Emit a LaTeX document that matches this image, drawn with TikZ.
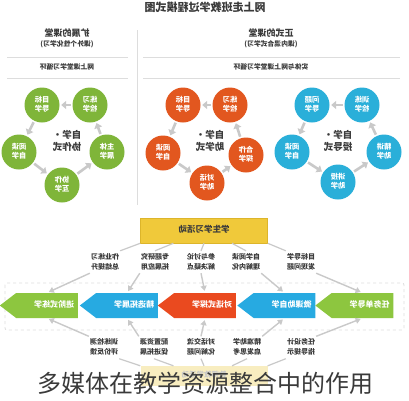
\documentclass[tikz,border=0pt]{standalone}
\usepackage{fontspec}
\setmainfont{Noto Sans CJK SC}
\usepackage{graphicx}
\usetikzlibrary{arrows.meta,shapes.symbols,calc}
\definecolor{cgreen}{HTML}{7FB539}
\definecolor{corange}{HTML}{E2571F}
\definecolor{cblue}{HTML}{2AAFD9}
\definecolor{vgreen}{HTML}{8DC63F}
\definecolor{vblue}{HTML}{27AAE1}
\definecolor{vred}{HTML}{EA4A1F}
\definecolor{gold}{HTML}{F0C93A}
\definecolor{goldline}{HTML}{DDB52A}
\definecolor{paleyellow}{HTML}{F8EDC0}
\definecolor{arrowgray}{HTML}{C9C9C9}
\definecolor{rulegray}{HTML}{DDDDDD}
\definecolor{txtgray}{HTML}{3A3A3A}
\newcommand\mirr[1]{\reflectbox{\begin{tabular}{@{}c@{}}#1\end{tabular}}}
\tikzset{
  circ/.style={circle, minimum size=35pt, inner sep=0pt, text=white,
    font=\fontsize{7.3}{9.5}\selectfont\bfseries},
  carrow/.style={draw=arrowgray, line width=2.6pt,
    -{Triangle[length=5pt,width=8pt]}, shorten >=1.5pt, shorten <=1.5pt},
  ctext/.style={text=txtgray, font=\fontsize{9.5}{12}\selectfont\bfseries},
  lab/.style={text=txtgray, inner sep=1pt, font=\fontsize{7}{10}\selectfont\bfseries},
  chev/.style={signal, signal to=west, signal pointer angle=75,
    minimum width=78pt, minimum height=25pt, inner sep=0pt, text=white,
    font=\fontsize{8}{9}\selectfont\bfseries},
  larrow/.style={draw=arrowgray, line width=1.4pt,
    -{Triangle[length=5pt,width=6pt]}, shorten >=2pt},
  fan/.style={draw=arrowgray, line width=1.2pt},
  head/.style={text=txtgray, font=\fontsize{9}{10}\selectfont\bfseries},
  sub/.style={text=txtgray, font=\fontsize{6.8}{8}\selectfont\bfseries},
}
\begin{document}
\begin{tikzpicture}[x=1pt,y=-1pt]
\useasboundingbox (0,0) rectangle (409,400);
\fill[white] (0,0) rectangle (409,400);
% ---------- top section
\node[text=txtgray, font=\fontsize{11}{12}\selectfont\bfseries] (title) at (205,9) {\mirr{网上走班教学过程模式图}};
\draw[rulegray, line width=0.8pt] (137,30) -- (137,205);
\node[head] (hl) at (67,34) {\mirr{扩展的课堂}};
\node[sub] (hls) at (67,45) {\mirr{(课外个性化学习)}};
\node[head] (hr) at (271,34) {\mirr{正式的课堂}};
\node[sub] (hrs) at (271,45) {\mirr{(课内混合式学习)}};
\draw[rulegray, line width=0.7pt] (7,57.5) -- (128,57.5) (143,57.5) -- (400,57.5);
\draw[rulegray, line width=0.7pt] (7,78) -- (128,78) (143,78) -- (400,78);
\node[sub] (cl) at (67,68) {\mirr{网上课堂学习循环}};
\node[sub] (cr) at (271,68) {\mirr{实体与网上课堂学习循环}};
% left cycle (green)
\node[circ, fill=cgreen] (l1) at (42,105) {\mirr{目标\\导学}};
\node[circ, fill=cgreen] (l2) at (90,105) {\mirr{练习\\检学}};
\node[circ, fill=cgreen] (l3) at (19,152) {\mirr{阅读\\自学}};
\node[circ, fill=cgreen] (l4) at (62,185) {\mirr{协作\\互学}};
\node[circ, fill=cgreen] (l5) at (107,152) {\mirr{主体\\展学}};
\node[ctext] (lc) at (67,142) {\mirr{自学·\\协作式}};
\draw[carrow] (l2) -- (l1);
\draw[carrow] (l1) -- (l3);
\draw[carrow] (l3) -- (l4);
\draw[carrow] (l4) -- (l5);
\draw[carrow] (l5) -- (l2);
% middle cycle (orange)
\node[circ, fill=corange] (m1) at (183,105) {\mirr{目标\\导学}};
\node[circ, fill=corange] (m2) at (230,105) {\mirr{练习\\检学}};
\node[circ, fill=corange] (m3) at (163,153) {\mirr{阅读\\自学}};
\node[circ, fill=corange] (m4) at (207,183) {\mirr{对话\\助学}};
\node[circ, fill=corange] (m5) at (246,155) {\mirr{合作\\探学}};
\node[ctext] (mc) at (210,142) {\mirr{自学·\\助学式}};
\draw[carrow] (m2) -- (m1);
\draw[carrow] (m1) -- (m3);
\draw[carrow] (m3) -- (m4);
\draw[carrow] (m4) -- (m5);
\draw[carrow] (m5) -- (m2);
% right cycle (blue)
\node[circ, fill=cblue] (r1) at (312,105) {\mirr{问题\\导学}};
\node[circ, fill=cblue] (r2) at (362,105) {\mirr{训练\\检学}};
\node[circ, fill=cblue] (r3) at (292,152) {\mirr{阅读\\自学}};
\node[circ, fill=cblue] (r4) at (338,182) {\mirr{讲授\\助学}};
\node[circ, fill=cblue] (r5) at (384,152) {\mirr{精讲\\助学}};
\node[ctext] (rc) at (338,142) {\mirr{自学·\\授导式}};
\draw[carrow] (r2) -- (r1);
\draw[carrow] (r1) -- (r3);
\draw[carrow] (r3) -- (r4);
\draw[carrow] (r4) -- (r5);
\draw[carrow] (r5) -- (r2);
% ---------- bottom section
\node[draw=goldline, fill=gold, line width=0.6pt, minimum width=127pt, minimum height=25pt,
  text=txtgray, font=\fontsize{8.5}{10}\selectfont\bfseries] (sbox) at (204,230.5) {\mirr{学生学习活动}};
\node[lab] (a1) at (105,262) {\mirr{作业练习\\总结提升}};
\node[lab] (a2) at (155,262) {\mirr{专题研究\\拓展应用}};
\node[lab] (a3) at (201,262) {\mirr{参与讨论\\解决疑点}};
\node[lab] (a4) at (246,262) {\mirr{自学阅读\\理解内化}};
\node[lab] (a5) at (301,262) {\mirr{目标导学\\发现问题}};
\draw[fan] (sbox.south west) -- (a1.north east);
\draw[fan] ($(sbox.south west)!0.26!(sbox.south east)$) -- (a2.north);
\draw[fan] (sbox.south) -- (a3.north);
\draw[fan] ($(sbox.south west)!0.72!(sbox.south east)$) -- (a4.north);
\draw[fan] (sbox.south east) -- (a5.north west);
% chevron band
\draw[rulegray, dashed, line width=0.8pt, rounded corners=2pt] (5,283) rectangle (404,330);
\node[chev, fill=vgreen] (c1) at (47,305.5) {\hspace*{14pt}\mirr{进阶式练学}};
\node[chev, fill=vblue] (c2) at (127,305.5) {\hspace*{14pt}\mirr{精选拓展学}};
\node[chev, fill=vred] (c3) at (205,305.5) {\hspace*{14pt}\mirr{对话式探学}};
\node[chev, fill=vblue] (c4) at (284.5,305.5) {\hspace*{14pt}\mirr{微课助自学}};
\node[chev, fill=vgreen] (c5) at (362.5,305.5) {\hspace*{14pt}\mirr{任务单导学}};
\draw[larrow] (a1.south west) -- (c1.north);
\draw[larrow] (a2.south west) -- (c2.north);
\draw[larrow] (a3.south) -- (c3.north);
\draw[larrow] (a4.south east) -- (c4.north);
\draw[larrow] (a5.south east) -- (c5.north);
% lower labels
\node[lab] (b1) at (104,347.5) {\mirr{训练检测\\评价反馈}};
\node[lab] (b2) at (154,347.5) {\mirr{配置资源\\促进拓展}};
\node[lab] (b3) at (201,347.5) {\mirr{对话交流\\化解问题}};
\node[lab] (b4) at (247,347.5) {\mirr{精准助学\\启发思考}};
\node[lab] (b5) at (301,347.5) {\mirr{任务设计\\指导提示}};
\draw[larrow] (b1.north west) -- (c1.south);
\draw[larrow] (b2.north west) -- (c2.south);
\draw[larrow] (b3.north) -- (c3.south);
\draw[larrow] (b4.north east) -- (c4.south);
\draw[larrow] (b5.north east) -- (c5.south);
\node[fill=paleyellow, minimum width=127pt, minimum height=20pt,
  text=arrowgray, font=\fontsize{7.5}{9}\selectfont\bfseries] (tbox) at (204,376) {\mirr{教师教学活动}};
\draw[fan] (b1.south east) -- (tbox.north west);
\draw[fan] (b2.south) -- ($(tbox.north west)!0.26!(tbox.north east)$);
\draw[fan] (b3.south) -- (tbox.north);
\draw[fan] (b4.south) -- ($(tbox.north west)!0.72!(tbox.north east)$);
\draw[fan] (b5.south west) -- (tbox.north east);
\node[text=txtgray, font=\fontsize{24}{26}\selectfont, inner sep=0pt] (cap) at (205,383) {多媒体在教学资源整合中的作用};
\end{tikzpicture}
\end{document}
